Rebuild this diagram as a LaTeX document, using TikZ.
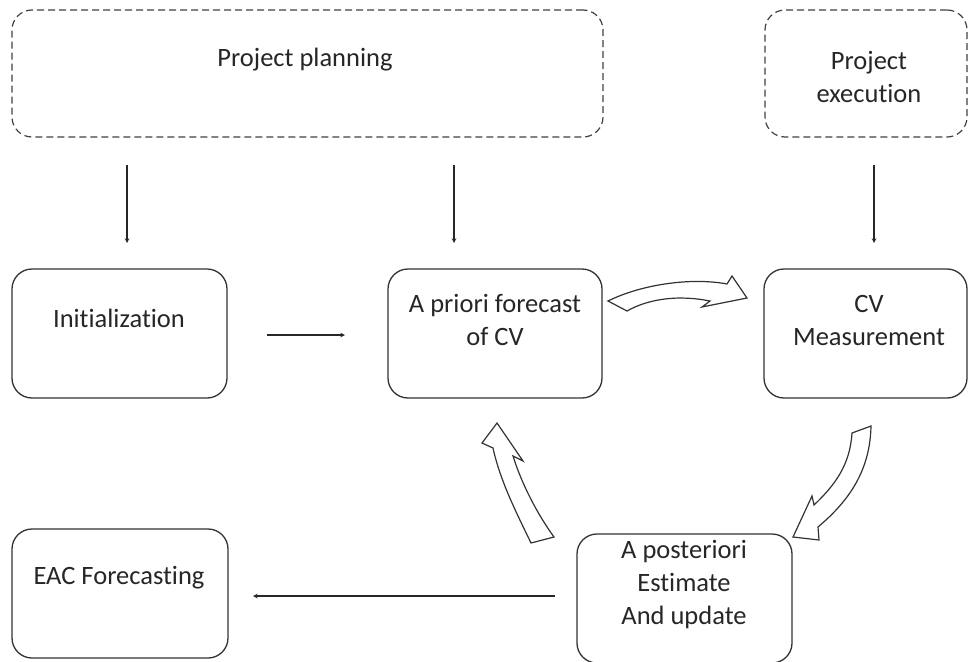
\documentclass[tikz,border=0pt]{standalone}
\usepackage{fontspec}
\setmainfont{Carlito}[Ligatures=NoCommon]
\usetikzlibrary{arrows, positioning}
\tikzset{>=stealth}

\begin{document}
\begin{tikzpicture}[x=1pt, y=-1pt, >=stealth,
    box/.style={draw=black!80, line width=1.3pt, rounded corners=20pt, outer sep=0pt},
    phase/.style={draw=black!75, line width=1.2pt, dash pattern=on 7pt off 4pt, rounded corners=20pt, outer sep=0pt},
    lbl/.style={align=center, text=black!85, font=\fontsize{26.5}{33}\selectfont},
    flow/.style={->, draw=black!85, line width=1.1pt},
    hollow/.style={draw=black!80, fill=white, line width=1.2pt, line join=miter}]
    \useasboundingbox (0,0) rectangle (968,661);

    % phases
    \node[phase, minimum width=591pt, minimum height=127pt] (plan) at (307.5,73.5) {};
    \node[phase, minimum width=202pt, minimum height=127pt] (exec) at (866,73.5) {};
    \node[lbl] (planT) at (305,60) {Project planning};
    \node[lbl] (execT) at (869,77) {Project\\execution};

    % steps
    \node[box, minimum width=215pt, minimum height=129pt] (init) at (119.5,333.5) {};
    \node[box, minimum width=214pt, minimum height=129pt] (prior) at (495,333.5) {};
    \node[box, minimum width=203pt, minimum height=129pt] (meas) at (865.5,333.5) {};
    \node[box, minimum width=216pt, minimum height=129pt] (eac) at (120,593.5) {};
    \node[box, minimum width=215pt, minimum height=129pt] (post) at (684.5,598.5) {};
    \node[lbl] (initT) at (119,318) {Initialization};
    \node[lbl] (priorT) at (495,320) {A priori forecast\\of CV};
    \node[lbl] (measT) at (869,320) {CV\\Measurement};
    \node[lbl] (eacT) at (119,578) {EAC Forecasting};
    \node[lbl] (postT) at (684,585) {A posteriori\\Estimate\\And update};

    % arrows
    \draw[flow, shorten <=28pt, shorten >=26pt] ([xshift=7.5pt]init.north |- plan.south) -- ([xshift=7.5pt]init.north);
    \draw[flow, shorten <=28pt, shorten >=26pt] ([xshift=-41pt]prior.north |- plan.south) -- ([xshift=-41pt]prior.north);
    \draw[flow, shorten <=28pt, shorten >=26pt] ([xshift=8.5pt]meas.north |- exec.south) -- ([xshift=8.5pt]meas.north);
    \draw[flow, shorten <=40pt, shorten >=43pt] ([yshift=-1.5pt]init.east) -- ([yshift=-1.5pt]prior.west);
    \draw[flow, shorten <=22pt, shorten >=25pt] ([yshift=2.5pt]post.west) -- ([yshift=2.5pt]post.west -| eac.east);

    % hollow arrows
    \draw[hollow] (608,301) .. controls (640,285) and (690,277) .. (727,284)
        -- (732,276) -- (747,298) -- (702,307) -- (710,301)
        .. controls (680,295) and (650,298) .. (627,311) -- cycle;
    \draw[hollow] (852,433) -- (871,426) .. controls (870,470) and (850,500) .. (818,527)
        -- (819,540) -- (793,537) -- (812,496) -- (814,505)
        .. controls (835,485) and (850,465) .. (852,433) -- cycle;
    \draw[hollow] (531,543) .. controls (515,510) and (500,480) .. (493,448)
        -- (482,443) -- (497,423) -- (523,461) -- (513,456)
        .. controls (522,485) and (538,515) .. (554,537) -- cycle;
\end{tikzpicture}
\end{document}
